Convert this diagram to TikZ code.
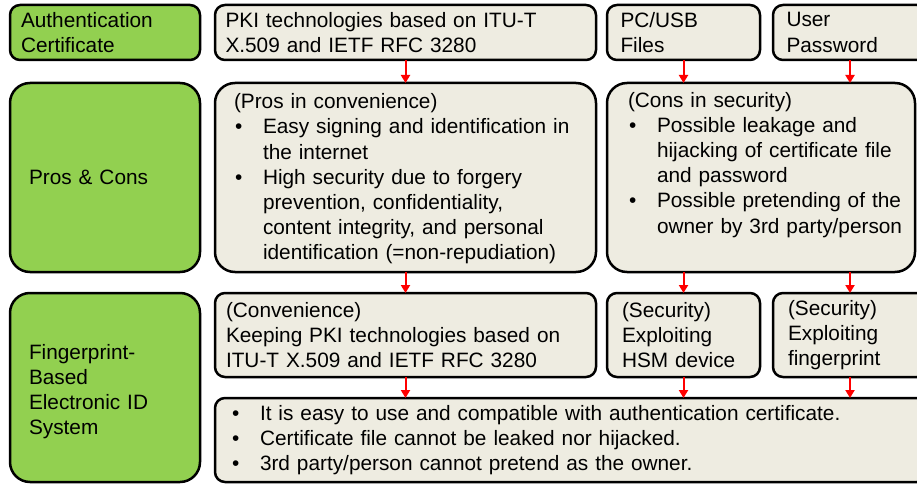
\documentclass[tikz,border=0pt]{standalone}
\usepackage{fontspec}
\setmainfont{Liberation Sans}
\usepackage{xcolor}
\usetikzlibrary{arrows.meta, positioning}

\definecolor{headgreen}{RGB}{146,208,80}
\definecolor{panelgray}{RGB}{238,236,225}

\newcommand{\bul}{\makebox[29pt][l]{\hspace*{1pt}\textbullet}}
\newcommand{\cont}{\hspace*{29pt}}

\begin{document}
\begin{tikzpicture}[
    x=1pt, y=1pt,
    node distance=11pt,
    card/.style={rectangle, draw, line width=2.5pt, rounded corners=10pt, align=left, inner xsep=4pt, inner ysep=2pt, outer sep=0pt, font=\fontsize{20.8}{25.2}\selectfont},
    wd/.style={minimum width=#1, text width/.expanded={\the\dimexpr#1-8pt\relax}},
    pad/.style={execute at begin node={\leftskip=#1}},
    head/.style={card, fill=headgreen},
    panel/.style={card, fill=panelgray},
    tall/.style={minimum height=189pt, rounded corners=20pt},
    short/.style={minimum height=84pt},
    arrow/.style={-{Triangle[length=8pt,width=9pt]}, line width=2pt, red},
]
\useasboundingbox (0,0) rectangle (917,-484);
\clip (0,0) rectangle (917,-484);

% first row
\node[head, wd=190pt, minimum height=55pt, pad=7pt, anchor=north west] (auth) at (10,-5) {Authentication\\Certificate};
\node[panel, wd=381pt, minimum height=55pt, pad=6.5pt, right=15pt of auth] (pki) {PKI technologies based on ITU-T\\X.509 and IETF RFC 3280};
\node[panel, wd=153pt, minimum height=55pt, pad=9.5pt, right=of pki] (pcusb) {PC/USB\\Files};
\node[panel, wd=154pt, minimum height=55pt, pad=9.5pt, right=13pt of pcusb] (userpw) {User\\Password};

% second row
\node[head, tall, wd=190pt, pad=15pt, below=23pt of auth] (proscons) {Pros \& Cons};
\node[panel, tall, wd=381pt, pad=15pt, text height=18pt, right=15pt of proscons] (pros) {(Pros in convenience)\\
    \bul Easy signing and identification in\\
    \cont the internet\\
    \bul High security due to forgery\\
    \cont prevention, confidentiality,\\
    \cont content integrity, and personal\\
    \cont identification (=non-repudiation)};
\node[panel, tall, wd=308pt, pad=17pt, text height=18pt, right=of pros] (cons) {(Cons in security)\\
    \bul Possible leakage and\\
    \cont hijacking of certificate file\\
    \cont and password\\
    \bul Possible pretending of the\\
    \cont owner by 3rd party/person\\
    \strut};

% third row
\node[head, tall, wd=190pt, pad=15pt, text height=23pt, below=21pt of proscons] (fpid) {Fingerprint-\\Based\\Electronic ID\\System};
\node[panel, short, wd=381pt, pad=7pt, right=15pt of fpid.north east, anchor=north west] (conv) {(Convenience)\\Keeping PKI technologies based on\\ITU-T X.509 and IETF RFC 3280};
\node[panel, short, wd=153pt, pad=11pt, right=of conv] (hsm) {(Security)\\Exploiting\\HSM device};
\node[panel, short, wd=154pt, pad=11pt, right=13pt of hsm] (fpsec) {(Security)\\Exploiting\\fingerprint};
\node[panel, short, wd=712pt, pad=12pt, below=21pt of conv.south west, anchor=north west] (result) {\bul It is easy to use and compatible with authentication certificate.\\
    \bul Certificate file cannot be leaked nor hijacked.\\
    \bul 3rd party/person cannot pretend as the owner.};

% arrows
\draw[arrow] (pki) -- (pros);
\draw[arrow] (pcusb) -- (pcusb |- cons.north);
\draw[arrow] (userpw) -- (userpw |- cons.north);
\draw[arrow] (pros) -- (conv);
\draw[arrow] (cons.south -| hsm) -- (hsm);
\draw[arrow] (cons.south -| fpsec) -- (fpsec);
\draw[arrow] (conv) -- (conv |- result.north);
\draw[arrow] (hsm) -- (hsm |- result.north);
\draw[arrow] (fpsec) -- (fpsec |- result.north);

\end{tikzpicture}
\end{document}
